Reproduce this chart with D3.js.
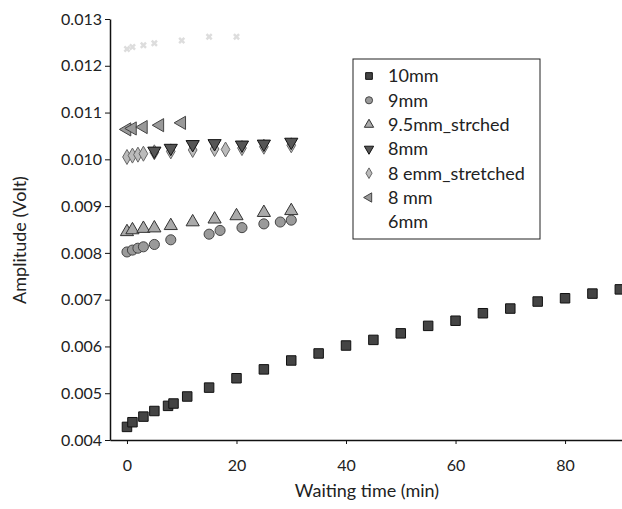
<!DOCTYPE html>
<html>
<head>
<meta charset="utf-8">
<script src="https://cdn.jsdelivr.net/npm/d3@7"></script>
<style>
  body { margin: 0; background: #fff; }
  text { font-family: Lato, "Liberation Sans", sans-serif; fill: #222; }
</style>
</head>
<body>
<div id="chart"></div>
<script>
// series (time in min, amplitude in V)
const t10 = [0, 1, 3, 5, 7.5, 8.5, 11, 15, 20, 25, 30, 35, 40, 45, 50, 55, 60, 65, 70, 75, 80, 85, 90];
const v10 = [0.00428, 0.00438, 0.00450, 0.00462, 0.00473, 0.00478, 0.00493, 0.00512, 0.00532, 0.00551, 0.00570, 0.00585,
             0.00602, 0.00614, 0.00628, 0.00644, 0.00655, 0.00671, 0.00681, 0.00696, 0.00703, 0.00713, 0.00722];

const t9 = [0, 1, 2, 3, 5, 8, 15, 17, 21, 25, 28, 30];
const v9 = [0.00802, 0.00806, 0.00810, 0.00813, 0.00818, 0.00828, 0.00840, 0.00848, 0.00854, 0.00862, 0.00866, 0.00870];

const t95 = [0, 1, 3, 5, 8, 12, 16, 20, 25, 30];
const v95 = [0.00845, 0.00849, 0.00852, 0.00853, 0.00858, 0.00866, 0.00872, 0.00879, 0.00886, 0.00890];

const t8 = [5, 8, 12, 16, 21, 25, 30];
const v8 = [0.01018, 0.01024, 0.01032, 0.01034, 0.01031, 0.01033, 0.01037];

const t8e = [0, 1, 2, 3, 5, 8, 12, 16, 18, 21, 25, 30];
const v8e = [0.01005, 0.01008, 0.01010, 0.01012, 0.01015, 0.01017, 0.01020, 0.01022, 0.01021, 0.01024, 0.01027, 0.01030];

const t8b = [0, 1, 3, 6, 10];
const v8b = [0.01064, 0.01066, 0.01069, 0.01073, 0.01078];

const t6 = [0, 1, 3, 5, 10, 15, 20];
const v6 = [0.01236, 0.01240, 0.01244, 0.01248, 0.01254, 0.01262, 0.01262];

const seriesNames = ['10mm', '9mm', '9.5mm_strched', '8mm', '8 emm_stretched', '8 mm', '6mm'];
const xTicks = [0, 20, 40, 60, 80];
const yTicks = [0.004, 0.005, 0.006, 0.007, 0.008, 0.009, 0.010, 0.011, 0.012, 0.013];

const width = 622, height = 509;

// marker look per series
const styles = [
    { type: d3.symbolSquare,   size: 90, rot: 0,   fill: '#444', stroke: '#111' },
    { type: d3.symbolCircle,   size: 80, rot: 0,   fill: '#9a9a9a', stroke: '#444' },
    { type: d3.symbolTriangle, size: 75, rot: 0,   fill: '#aaa', stroke: '#333' },
    { type: d3.symbolTriangle, size: 75, rot: 180, fill: '#555', stroke: '#111' },
    { type: d3.symbolDiamond,  size: 65, rot: 0,   fill: '#bbb', stroke: '#666' },
    { type: d3.symbolTriangle, size: 75, rot: -90, fill: '#999', stroke: '#444' },
    { type: d3.symbolCross,    size: 30, rot: 45,  fill: '#ddd', stroke: 'none' }
];

const series = [[t10, v10], [t9, v9], [t95, v95], [t8, v8], [t8e, v8e], [t8b, v8b], [t6, v6]]
    .map(([t, v], i) => ({ name: seriesNames[i], style: styles[i], points: t.map((x, j) => ({ x, y: v[j] })) }));

const svg = d3.select('#chart').append('svg')
    .attr('width', width)
    .attr('height', height);

const x = d3.scaleLinear().domain([-3.1, 90.4]).range([110, 622]);
const y = d3.scaleLinear().domain([0.004, 0.013]).range([440, 19]);

// axes
const xAxis = svg.append('g')
    .attr('transform', 'translate(0,440)')
    .call(d3.axisBottom(x).tickValues(xTicks).tickSize(4).tickSizeOuter(0).tickPadding(16));
const yAxis = svg.append('g')
    .attr('transform', 'translate(110,0)')
    .call(d3.axisLeft(y).tickValues(yTicks).tickSize(5).tickSizeOuter(0).tickPadding(3).tickFormat(d3.format('.3f')));

[xAxis, yAxis].forEach(g => {
    g.select('.domain').attr('stroke', '#111').attr('stroke-width', 1.5);
    g.selectAll('.tick line').attr('stroke', '#111');
    g.selectAll('.tick text').attr('font-size', 16).attr('font-family', 'Lato, sans-serif').attr('fill', '#222');
});

// axis titles
svg.append('text')
    .attr('x', 367).attr('y', 497)
    .attr('text-anchor', 'middle')
    .attr('font-size', 18)
    .text('Waiting time (min)');

svg.append('text')
    .attr('transform', 'translate(26,240) rotate(-90)')
    .attr('text-anchor', 'middle')
    .attr('font-size', 18)
    .text('Amplitude (Volt)');

// points, last series drawn first so the dark ones sit on top
const marks = svg.append('g');
series.slice().reverse().forEach(s => {
    marks.append('g')
        .selectAll('path')
        .data(s.points)
        .enter()
        .append('path')
        .attr('d', d3.symbol().type(s.style.type).size(s.style.size))
        .attr('transform', d => `translate(${x(d.x)},${y(d.y)}) rotate(${s.style.rot})`)
        .attr('fill', s.style.fill)
        .attr('stroke', s.style.stroke)
        .attr('stroke-width', 1);
});

// legend
const legend = svg.append('g').attr('transform', 'translate(353,59)');
legend.append('rect')
    .attr('width', 187).attr('height', 180)
    .attr('fill', '#fff')
    .attr('stroke', '#222');

const item = legend.selectAll('g.item')
    .data(series)
    .enter()
    .append('g')
    .attr('class', 'item')
    .attr('transform', (d, i) => `translate(0,${17 + i * 24.3})`);

item.filter((d, i) => i < 6).append('path')
    .attr('d', d => d3.symbol().type(d.style.type).size(d.style.size * 0.5)())
    .attr('transform', d => `translate(16,0) rotate(${d.style.rot})`)
    .attr('fill', d => d.style.fill)
    .attr('stroke', d => d.style.stroke);

item.append('text')
    .attr('x', 35)
    .attr('dy', '0.35em')
    .attr('font-size', 18)
    .text(d => d.name);
</script>
</body>
</html>
